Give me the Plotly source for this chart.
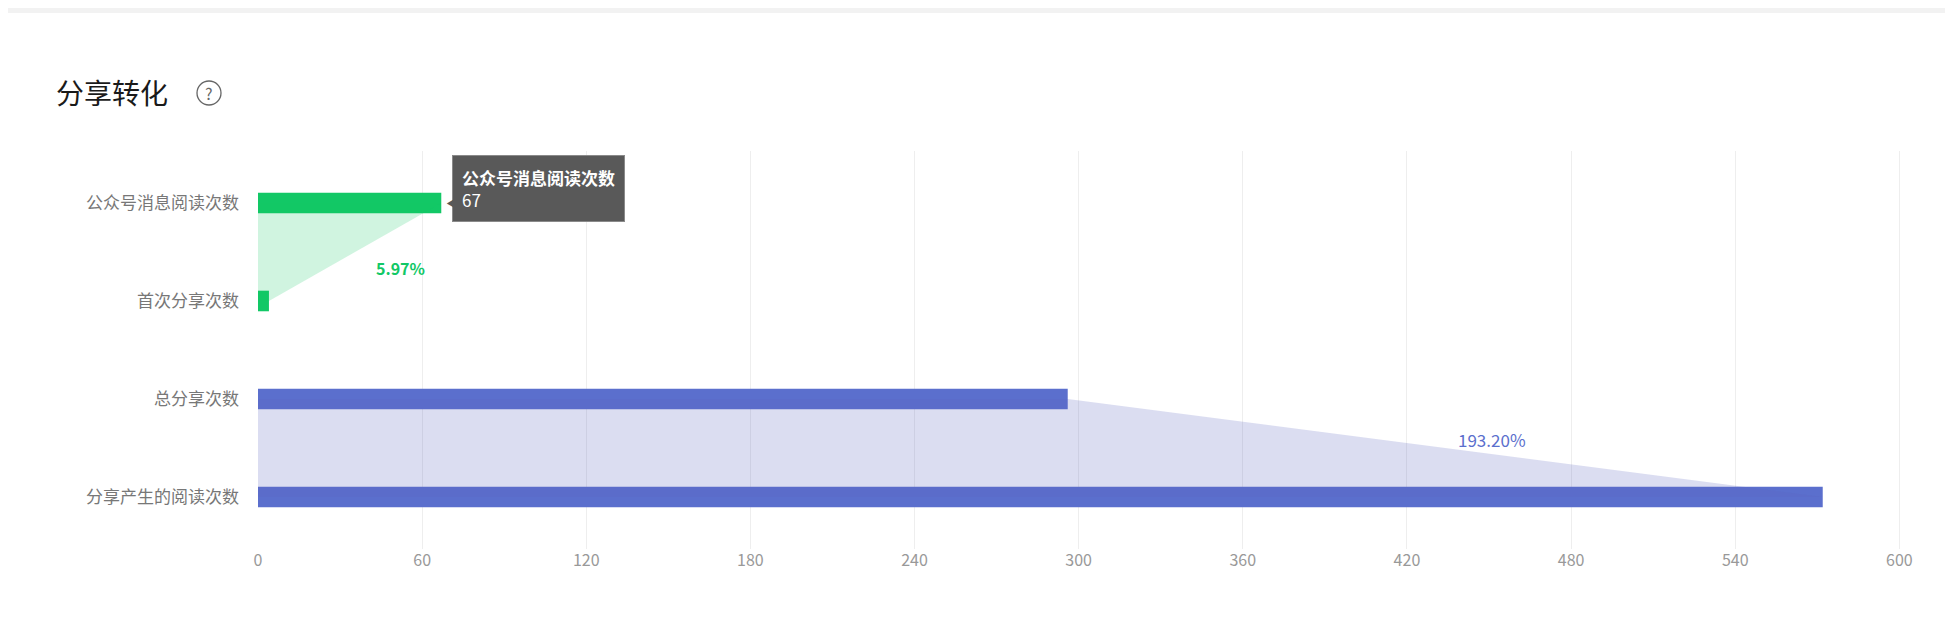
import plotly.graph_objects as go

categories = ["公众号消息阅读次数", "首次分享次数", "总分享次数", "分享产生的阅读次数"]
values = [67, 4, 296, 572]
rates = ["5.97%", "193.20%"]
x_ticks = [0, 60, 120, 180, 240, 300, 360, 420, 480, 540, 600]
colors = ["#12c866", "#12c866", "#5b6fcd", "#5b6fcd"]

W, H = 1953, 642
L, R, T, B = 250, 48, 143, 101
PW, PH = W - L - R, H - T - B
def px(x): return (x - L) / PW
def py(y): return 1 - (y - T) / PH

ys = list(range(len(categories)))
fig = go.Figure()
fills = [("rgba(18,200,102,0.2)", 0, 1), ("rgba(90,100,190,0.22)", 2, 3)]
for col, a, b in fills:
    fig.add_trace(go.Scatter(x=[0, values[a], values[b], 0, 0], y=[a, a, b, b, a],
                             fill="toself", fillcolor=col, line=dict(width=0),
                             mode="lines", hoverinfo="skip", showlegend=False))
fig.add_trace(go.Bar(x=values, y=ys, orientation="h", width=0.21,
                     marker=dict(color=colors, line=dict(width=0)), showlegend=False))

fig.add_annotation(x=52, y=0.66, text="<b>" + rates[0] + "</b>", showarrow=False,
                   font=dict(color="#12c866", size=16))
fig.add_annotation(x=451, y=2.41, text=rates[1], showarrow=False,
                   font=dict(color="#5b6fcd", size=17))
fig.add_annotation(x=values[0], y=0, xanchor="left", yanchor="middle", xshift=11, yshift=14,
                   text="<b>" + categories[0] + "</b><br>" + str(values[0]), showarrow=False, align="left",
                   bgcolor="#595959", bordercolor="#8a8a8a", borderwidth=1, borderpad=9,
                   font=dict(color="white", size=17))
fig.add_annotation(x=values[0], y=0, xanchor="left", yanchor="middle", xshift=3, yshift=0,
                   text="◀", showarrow=False, font=dict(color="#595959", size=12))

fig.add_annotation(xref="paper", yref="paper", x=px(46), y=py(84), xanchor="left", yanchor="middle",
                   text="分享转化", showarrow=False, font=dict(size=28, color="#1a1a1a"))
fig.add_shape(type="circle", xref="paper", yref="paper", x0=px(189), x1=px(213), y0=py(73), y1=py(97),
              line=dict(color="#666", width=1.3))
fig.add_annotation(xref="paper", yref="paper", x=px(201), y=py(85), xanchor="center", yanchor="middle",
                   text="?", showarrow=False, font=dict(size=16, color="#666"))
fig.add_shape(type="rect", xref="paper", yref="paper", x0=px(0), x1=px(W), y0=py(0), y1=py(5),
              fillcolor="#f2f2f2", line=dict(width=0), layer="below")

fig.update_layout(
    width=W, height=H, margin=dict(l=L, r=R, t=T, b=B),
    paper_bgcolor="white", plot_bgcolor="white",
    font=dict(family="Noto Sans CJK SC, sans-serif"),
    xaxis=dict(range=[0, 605], tickvals=x_ticks, showgrid=True, gridcolor="#eeeeee",
               zeroline=False, showline=False, tickfont=dict(color="#999", size=16), ticks=""),
    yaxis=dict(range=[3.53, -0.53], tickvals=ys, ticktext=categories, showgrid=False,
               zeroline=False, tickfont=dict(color="#777", size=17), ticks="", ticklabelstandoff=18),
)
fig.write_html("out.html")
